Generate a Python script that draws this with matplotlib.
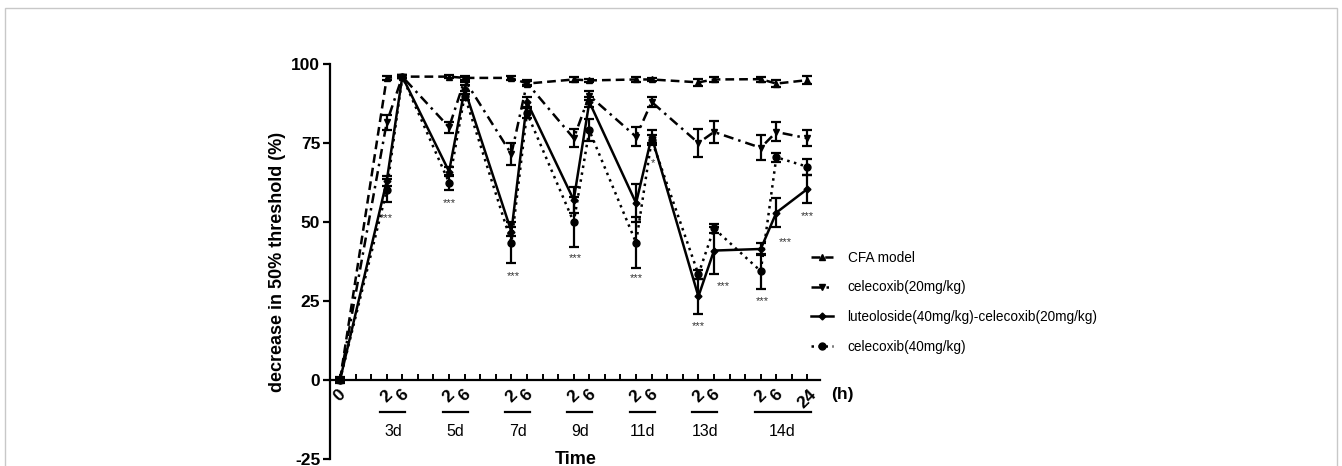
import matplotlib
matplotlib.use("Agg")
import matplotlib.pyplot as plt
from matplotlib.patches import Rectangle
from matplotlib.lines import Line2D

plt.rcParams['font.family'] = ['Liberation Sans', 'DejaVu Sans']
plt.rcParams['axes.unicode_minus'] = False

# time points (position index on the axis) and their labels
time_idx = [0, 3, 4, 7, 8, 11, 12, 15, 16, 19, 20, 23, 24, 27, 28, 30]
hour_labels = ['0', '2', '6', '2', '6', '2', '6', '2', '6', '2', '6', '2', '6', '2', '6', '24']

# day groups: label, first index, last index
day_labels = ['3d', '5d', '7d', '9d', '11d', '13d', '14d']
day_first = [3, 7, 11, 15, 19, 23, 27]
day_last = [4, 8, 12, 16, 20, 24, 30]

cfa = [0, 95.6, 96, 96, 95.6, 95.6, 93.8, 95.1, 94.8, 95.1, 95.1, 94.2, 95.1, 95.2, 93.8, 94.9]
cfa_err = [1, 0.6, 0.5, 0.5, 0.6, 0.6, 0.8, 0.8, 0.6, 0.8, 0.6, 1.2, 0.8, 0.8, 1.2, 1.2]

cel20 = [0, 81.5, 96, 80, 95, 71.5, 94, 76.5, 90, 77, 88, 75, 78.5, 73.5, 78.5, 76.5]
cel20_err = [0.5, 2.3, 0.5, 1.8, 0.8, 3.5, 0.8, 2.8, 1.5, 3, 1.5, 4.5, 3.5, 4, 3, 2.5]

lut = [0, 63, 96, 66, 92, 47, 88, 57, 88, 56, 77, 26.5, 41, 41.5, 53, 60.5]
lut_err = [0.5, 1.5, 0.5, 1.5, 1.5, 1.5, 1.5, 4, 1.5, 6, 2, 5.5, 7.5, 2, 4.5, 4.5]

cel40 = [0, 60, 96, 62.5, 90, 43.5, 84.5, 50, 79, 43.5, 76, 33.5, 48, 34.5, 70.5, 67.5]
cel40_err = [0.5, 3.5, 0.5, 2.5, 1.5, 6.5, 1.5, 8, 3.5, 8, 1.5, 1.5, 1.5, 5.5, 1.5, 2.5]

# significance marks
star_x = [3.0, 7.0, 11.1, 15.1, 19.0, 23.0, 24.6, 27.1, 28.6, 30.0, 20.1]
star_y = [51.4, 56.1, 32.8, 38.5, 32.2, 17.0, 29.9, 24.9, 43.8, 52.0, 68.7]
star_txt = ['***'] * 10 + ['*']

fig = plt.figure(figsize=(13.42, 4.66), dpi=100)
ax = fig.add_axes([0.2459, 0.0144, 0.3651, 0.8483])

series = [
    ('CFA model', cfa, cfa_err, (0, (3.5, 2)), '^', 5),
    ('celecoxib(20mg/kg)', cel20, cel20_err, (0, (4, 2, 1, 2)), 'v', 5),
    ('luteoloside(40mg/kg)-celecoxib(20mg/kg)', lut, lut_err, '-', 'D', 3.5),
    ('celecoxib(40mg/kg)', cel40, cel40_err, (0, (1, 1.8)), 'o', 5),
]
handles = []
for name, vals, errs, ls, mk, ms in series:
    ax.errorbar(time_idx, vals, yerr=errs, color='black', linestyle=ls, lw=1.8,
                marker=mk, markersize=ms, capsize=3.5, capthick=1.6, elinewidth=1.6,
                clip_on=False)
    handles.append(Line2D([], [], color='black', linestyle=ls, lw=1.8,
                          marker=mk, markersize=ms, label=name))

for sx, sy, st in zip(star_x, star_y, star_txt):
    ax.text(sx, sy, st, ha='center', va='center', fontsize=8, color='#333333')

ax.set_xlim(-0.64, 30.8)
ax.set_ylim(-25, 100)
ax.spines['top'].set_visible(False)
ax.spines['right'].set_visible(False)
ax.spines['bottom'].set_position(('data', 0))
for s in ['left', 'bottom']:
    ax.spines[s].set_linewidth(1.6)

ax.set_yticks([-25, 0, 25, 50, 75, 100])
ax.tick_params(axis='y', direction='out', length=5, width=1.6, labelsize=12.5, pad=2)
for lab in ax.get_yticklabels():
    lab.set_fontweight('bold')

xt = list(range(0, 31))
xl = [''] * len(xt)
for i, t in enumerate(time_idx):
    xl[t] = hour_labels[i]
ax.set_xticks(xt)
ax.set_xticklabels(xl, rotation=45, fontsize=12.5, fontweight='bold')
ax.tick_params(axis='x', direction='in', length=4.5, width=1.4, pad=5)

for lab, a, b in zip(day_labels, day_first, day_last):
    x0, x1 = a - 0.4, b + 0.2
    ax.plot([x0, x1], [-10.1, -10.1], color='black', lw=1.6, clip_on=False)
    ax.text((x0 + x1) / 2, -16.3, lab, ha='center', va='center', fontsize=11.5)

ax.text(15.1, -25.2, 'Time', ha='center', va='center', fontsize=13, fontweight='bold')
ax.text(31.5, -4.5, '(h)', ha='left', va='center', fontsize=12.5, fontweight='bold')
ax.set_ylabel('decrease in 50% threshold (%)', fontsize=13, fontweight='bold', labelpad=4)

ax.legend(handles=handles, loc='upper left', bbox_to_anchor=(804 / 1342, 1 - 244 / 466),
          bbox_transform=fig.transFigure, frameon=False, fontsize=9.8,
          handlelength=1.6, handletextpad=1.1, labelspacing=1.15, borderpad=0)

fig.patches.append(Rectangle((5 / 1342, -0.05), 1332 / 1342, 1.05 - 8 / 466,
                             transform=fig.transFigure, fill=False,
                             edgecolor='#c8c8c8', lw=1))

fig.savefig('out.png', dpi=100)
